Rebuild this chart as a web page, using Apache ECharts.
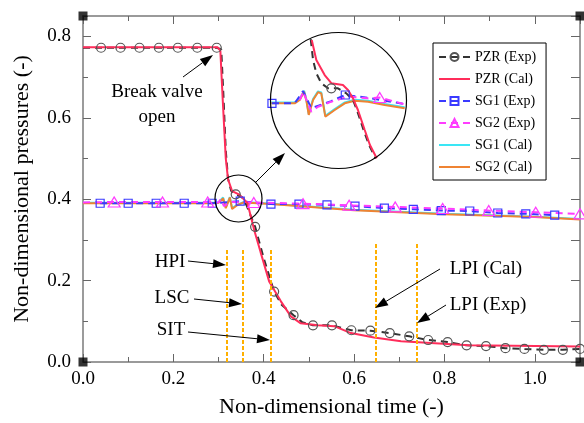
<!DOCTYPE html>
<html>
<head>
<meta charset="utf-8">
<script src="https://cdn.jsdelivr.net/npm/echarts@6/dist/echarts.min.js"></script>
<style>
  html, body { margin: 0; padding: 0; background: #fff; }
  #chart { width: 584px; height: 423px; }
</style>
</head>
<body>
<div id="chart"></div>
<script>
// PZR experiment: markers, plus extra points where the dashed curve bends between them
var pzrExpX = [0.040, 0.083, 0.125, 0.168, 0.210, 0.253, 0.296, 0.338, 0.381, 0.423, 0.466, 0.509, 0.551,
               0.594, 0.636, 0.679, 0.722, 0.764, 0.807, 0.849, 0.892, 0.935, 0.977, 1.020, 1.062, 1.100];
var pzrExpY = [0.772, 0.772, 0.772, 0.772, 0.772, 0.772, 0.772, 0.412, 0.332, 0.173, 0.115, 0.090, 0.090,
               0.078, 0.077, 0.071, 0.063, 0.054, 0.049, 0.041, 0.039, 0.034, 0.032, 0.030, 0.030, 0.032];
var pzrExpLineX = [0.000, 0.306, 0.311, 0.316, 0.321, 0.328, 0.352, 0.362, 0.400, 0.440, 0.485];
var pzrExpLineY = [0.772, 0.768, 0.650, 0.520, 0.450, 0.420, 0.405, 0.385, 0.255, 0.140, 0.098];

// PZR calculation
var pzrCalX = [0.000, 0.298, 0.304, 0.309, 0.316, 0.321, 0.330, 0.345, 0.356, 0.364, 0.380, 0.393, 0.412,
               0.438, 0.460, 0.482, 0.520, 0.556, 0.593, 0.644, 0.704, 0.733, 0.853, 1.100];
var pzrCalY = [0.773, 0.773, 0.765, 0.650, 0.500, 0.449, 0.420, 0.412, 0.400, 0.390, 0.320, 0.270, 0.198,
               0.149, 0.112, 0.095, 0.090, 0.088, 0.071, 0.060, 0.051, 0.049, 0.041, 0.038];

// SG1 / SG2 experiment
var sg1ExpX = [0.038, 0.100, 0.162, 0.224, 0.286, 0.348, 0.416, 0.478, 0.540, 0.602, 0.667, 0.731, 0.793,
               0.856, 0.918, 0.980, 1.044];
var sg1ExpY = [0.390, 0.390, 0.390, 0.390, 0.390, 0.395, 0.388, 0.388, 0.386, 0.383, 0.378, 0.375, 0.372,
               0.371, 0.366, 0.364, 0.361];
var sg2ExpX = [0.069, 0.176, 0.276, 0.378, 0.487, 0.589, 0.691, 0.796, 0.898, 1.002, 1.100];
var sg2ExpY = [0.393, 0.393, 0.393, 0.392, 0.389, 0.385, 0.381, 0.377, 0.372, 0.368, 0.364];
var sg2ExpLineX = [0.000, 0.300, 0.305, 0.312, 0.318, 0.330];
var sg2ExpLineY = [0.392, 0.392, 0.400, 0.383, 0.387, 0.393];

// SG1 / SG2 calculation
var sg1CalX = [0.000, 0.290, 0.300, 0.310, 0.316, 0.325, 0.330, 0.341, 0.356, 0.416, 0.600, 0.800, 1.000, 1.100];
var sg1CalY = [0.391, 0.391, 0.392, 0.404, 0.380, 0.405, 0.378, 0.386, 0.393, 0.389, 0.374, 0.364, 0.357, 0.351];
var sg2CalX = [0.000, 0.290, 0.300, 0.310, 0.316, 0.325, 0.330, 0.341, 0.356, 0.416, 0.600, 0.800, 1.000, 1.100];
var sg2CalY = [0.390, 0.390, 0.391, 0.402, 0.378, 0.404, 0.376, 0.385, 0.392, 0.388, 0.373, 0.363, 0.356, 0.350];

// safety injection timings (dotted verticals)
var eventX = [0.318, 0.353, 0.416, 0.647, 0.738];
var eventTop = [0.276, 0.276, 0.276, 0.290, 0.290];

// magnified inset (same units, zoomed region)
var inPzrCalX = [0.3250, 0.3285, 0.3349, 0.3400, 0.3489, 0.3528, 0.3566, 0.3604, 0.3656, 0.3696, 0.3748];
var inPzrCalY = [0.4551, 0.4380, 0.4252, 0.4182, 0.4167, 0.4125, 0.4054, 0.3954, 0.3784, 0.3656, 0.3543];
var inPzrExpX = [0.3242, 0.3260, 0.3285, 0.3323, 0.3375, 0.3400, 0.3451, 0.3515, 0.3566, 0.3596, 0.3647, 0.3689, 0.3739];
var inPzrExpY = [0.4557, 0.4380, 0.4267, 0.4182, 0.4139, 0.4139, 0.4139, 0.4096, 0.4039, 0.3954, 0.3784, 0.3656, 0.3541];
var inPzrExpMark = [0.3400];
var inSgCalX = [0.2940, 0.3119, 0.3158, 0.3191, 0.3208, 0.3227, 0.3260, 0.3298, 0.3323, 0.3354, 0.3426, 0.3503,
                0.3579, 0.3681, 0.3809, 0.3962];
var inSgCalY = [0.4011, 0.4011, 0.4039, 0.4110, 0.4039, 0.3912, 0.4039, 0.4105, 0.4096, 0.3897, 0.3954, 0.4011,
                0.4033, 0.4025, 0.3997, 0.3969];
var inSg1ExpX = [0.2945, 0.3119, 0.3183, 0.3247, 0.3400, 0.3507, 0.3681, 0.3962];
var inSg1ExpY = [0.4011, 0.4011, 0.4115, 0.3970, 0.4030, 0.4082, 0.4058, 0.4005];
var inSg1ExpMark = [0.2945, 0.3507];
var inSg2ExpX = [0.3158, 0.3183, 0.3247, 0.3298, 0.3400, 0.3528, 0.3681, 0.3771, 0.3962];
var inSg2ExpY = [0.4039, 0.4110, 0.3940, 0.3982, 0.4025, 0.4068, 0.4054, 0.4060, 0.4003];
var inSg2ExpMark = [0.3771];

var corners = [[0, 0], [1.1, 0], [0, 0.85], [1.1, 0.85]];

var FONT = '"Liberation Serif", "DejaVu Serif", serif';

function pairs(xs, ys) {
  return xs.map(function (x, i) { return [x, ys[i]]; });
}
// markers plus line-only points, sorted by x
function withMarkers(mx, my, lx, ly) {
  var pts = mx.map(function (x, i) { return { value: [x, my[i]] }; });
  lx.forEach(function (x, i) { pts.push({ value: [x, ly[i]], symbol: 'none' }); });
  pts.sort(function (a, b) { return a.value[0] - b.value[0]; });
  return pts;
}
function markedAt(xs, ys, marks) {
  return xs.map(function (x, i) {
    return marks.indexOf(x) >= 0 ? { value: [x, ys[i]] } : { value: [x, ys[i]], symbol: 'none' };
  });
}

function tickAxis(pos, interval, len, extra) {
  var ax = {
    type: 'value', position: pos, min: 0, max: pos === 'left' || pos === 'right' ? 0.85 : 1.1,
    interval: interval,
    axisLine: { show: false, onZero: false },
    axisTick: { show: true, inside: true, length: len, lineStyle: { color: '#666', width: 1 } },
    axisLabel: { show: false },
    splitLine: { show: false }
  };
  for (var k in extra) ax[k] = extra[k];
  return ax;
}

var frameLine = { show: true, onZero: false, lineStyle: { color: '#7a7a7a', width: 1.5 } };
var labelStyle = {
  show: true, showMaxLabel: false, fontFamily: FONT, fontSize: 19, color: '#000',
  formatter: function (v) { return v.toFixed(1); }
};

var C = {
  red: '#ff2d5a', black: '#333', gray: '#555', blue: '#3a3aff',
  magenta: '#ff3cff', cyan: '#3ae6f5', orange: '#ef8332', gold: '#ffb000'
};

var chart = echarts.init(document.getElementById('chart'));

function arrow(x1, y1, x2, y2) {
  var L = 13, W = 4.5;
  var dx = x2 - x1, dy = y2 - y1, len = Math.sqrt(dx * dx + dy * dy);
  var ux = dx / len, uy = dy / len;
  var bx = x2 - ux * L, by = y2 - uy * L;
  return [
    { type: 'line', z: 100, shape: { x1: x1, y1: y1, x2: bx, y2: by }, style: { stroke: '#000', lineWidth: 1 } },
    { type: 'polygon', z: 100, shape: { points: [[x2, y2], [bx - uy * W, by + ux * W], [bx + uy * W, by - ux * W]] },
      style: { fill: '#000' } }
  ];
}
function label(text, x, y) {
  return { type: 'text', z: 100, style: { text: text, x: x, y: y, font: '19px ' + FONT, fill: '#000',
           align: 'center', verticalAlign: 'middle' } };
}

var graphics = [
  { type: 'circle', z: 100, shape: { cx: 238.5, cy: 198.5, r: 23.5 }, style: { fill: 'none', stroke: '#000', lineWidth: 1.2 } },
  { type: 'circle', z: 100, shape: { cx: 338.5, cy: 100.5, r: 68 }, style: { fill: 'none', stroke: '#000', lineWidth: 1.2 } },
  label('Break valve', 157, 92), label('open', 157, 117),
  label('HPI', 170, 262), label('LSC', 172, 298), label('SIT', 171, 330),
  label('LPI (Cal)', 486, 269), label('LPI (Exp)', 488, 305)
]
  .concat(arrow(183, 77, 213, 55))
  .concat(arrow(188, 261, 226, 265))
  .concat(arrow(194, 299, 242, 304))
  .concat(arrow(188, 332, 270, 340))
  .concat(arrow(440, 269, 375, 308))
  .concat(arrow(446, 305, 417, 323))
  .concat(arrow(256, 182, 285, 153));

var pzrExpStyle = {
  symbol: 'circle', symbolSize: 9,
  itemStyle: { color: 'transparent', borderColor: C.gray, borderWidth: 1.2 },
  lineStyle: { color: C.black, width: 2, type: [7, 5] }
};
var pzrCalStyle = { showSymbol: false, symbol: 'none', lineStyle: { color: C.red, width: 2 }, itemStyle: { color: C.red } };
var sg1ExpStyle = {
  symbol: 'rect', symbolSize: 8,
  itemStyle: { color: 'transparent', borderColor: C.blue, borderWidth: 1.2 },
  lineStyle: { color: C.blue, width: 2, type: [7, 5] }
};
var sg2ExpStyle = {
  symbol: 'triangle', symbolSize: [12, 10],
  itemStyle: { color: 'transparent', borderColor: C.magenta, borderWidth: 1.2 },
  lineStyle: { color: C.magenta, width: 2, type: [7, 5] }
};
var sg1CalStyle = { showSymbol: false, symbol: 'none', lineStyle: { color: C.cyan, width: 2 }, itemStyle: { color: C.cyan } };
var sg2CalStyle = { showSymbol: false, symbol: 'none', lineStyle: { color: C.orange, width: 2 }, itemStyle: { color: C.orange } };

function line(name, data, style, xi, yi) {
  var s = { name: name, type: 'line', data: data, xAxisIndex: xi || 0, yAxisIndex: yi || 0,
            showAllSymbol: true, silent: true };
  for (var k in style) s[k] = style[k];
  return s;
}

// calculated series get a plain line in the legend, no marker
var noMarker = { color: 'rgba(0,0,0,0)', borderColor: 'rgba(0,0,0,0)', borderWidth: 0, opacity: 0 };

chart.setOption({
  animation: false,
  backgroundColor: '#fff',
  grid: [
    { left: 83, right: 4, top: 16, bottom: 59 },
    { left: 270, top: 33, width: 137, height: 135 }
  ],
  legend: {
    data: [
      'PZR (Exp)',
      { name: 'PZR (Cal)', itemStyle: noMarker },
      'SG1 (Exp)',
      'SG2 (Exp)',
      { name: 'SG1 (Cal)', itemStyle: noMarker },
      { name: 'SG2 (Cal)', itemStyle: noMarker }
    ],
    orient: 'vertical', left: 433, top: 43,
    padding: [7, 10, 6, 5], itemWidth: 31, itemHeight: 10, itemGap: 8,
    borderColor: '#000', borderWidth: 1, backgroundColor: '#fff',
    textStyle: { fontFamily: FONT, fontSize: 14, color: '#000' }
  },
  xAxis: [
    tickAxis('bottom', 0.2, 8, {
      axisLine: frameLine, axisLabel: Object.assign({ margin: 8 }, labelStyle),
      name: 'Non-dimensional time (-)', nameLocation: 'middle', nameGap: 34,
      nameTextStyle: { fontFamily: FONT, fontSize: 22, color: '#000' }
    }),
    tickAxis('bottom', 0.1, 5, {}),
    tickAxis('top', 0.2, 8, { axisLine: frameLine }),
    tickAxis('top', 0.1, 5, {}),
    { type: 'value', gridIndex: 1, min: 0.293, max: 0.398, show: false }
  ],
  yAxis: [
    tickAxis('left', 0.2, 8, {
      axisLine: frameLine, axisLabel: Object.assign({ margin: 12 }, labelStyle),
      name: 'Non-dimensional pressures (-)', nameLocation: 'middle', nameGap: 50,
      nameTextStyle: { fontFamily: FONT, fontSize: 22, color: '#000' }
    }),
    tickAxis('left', 0.1, 5, {}),
    tickAxis('right', 0.1, 9, { axisLine: frameLine }),
    { type: 'value', gridIndex: 1, min: 0.346, max: 0.461, show: false }
  ],
  series: [
    {
      name: 'events', type: 'line', data: [], silent: true,
      markLine: {
        silent: true, symbol: ['none', 'none'], label: { show: false },
        lineStyle: { color: C.gold, width: 2, type: [4, 2] },
        data: eventX.map(function (x, i) { return [{ coord: [x, 0] }, { coord: [x, eventTop[i]] }]; })
      }
    },
    line('SG1 (Cal)', pairs(sg1CalX, sg1CalY), sg1CalStyle),
    line('SG2 (Cal)', pairs(sg2CalX, sg2CalY), sg2CalStyle),
    line('SG1 (Exp)', pairs(sg1ExpX, sg1ExpY), sg1ExpStyle),
    line('SG2 (Exp)', withMarkers(sg2ExpX, sg2ExpY, sg2ExpLineX, sg2ExpLineY), sg2ExpStyle),
    line('PZR (Exp)', withMarkers(pzrExpX, pzrExpY, pzrExpLineX, pzrExpLineY), pzrExpStyle),
    line('PZR (Cal)', pairs(pzrCalX, pzrCalY), pzrCalStyle),
    {
      name: 'corners', type: 'scatter', data: corners, symbol: 'rect', symbolSize: 9, clip: false,
      itemStyle: { color: '#000' }, silent: true, z: 5
    },
    // inset
    line('SG1 (Cal)', pairs(inSgCalX, inSgCalY.map(function (v) { return v + 0.0008; })), sg1CalStyle, 4, 3),
    line('SG2 (Cal)', pairs(inSgCalX, inSgCalY), sg2CalStyle, 4, 3),
    line('SG1 (Exp)', markedAt(inSg1ExpX, inSg1ExpY, inSg1ExpMark), sg1ExpStyle, 4, 3),
    line('SG2 (Exp)', markedAt(inSg2ExpX, inSg2ExpY, inSg2ExpMark), sg2ExpStyle, 4, 3),
    line('PZR (Exp)', markedAt(inPzrExpX, inPzrExpY, inPzrExpMark), pzrExpStyle, 4, 3),
    line('PZR (Cal)', pairs(inPzrCalX, inPzrCalY), pzrCalStyle, 4, 3)
  ],
  graphic: graphics
});
</script>
</body>
</html>
